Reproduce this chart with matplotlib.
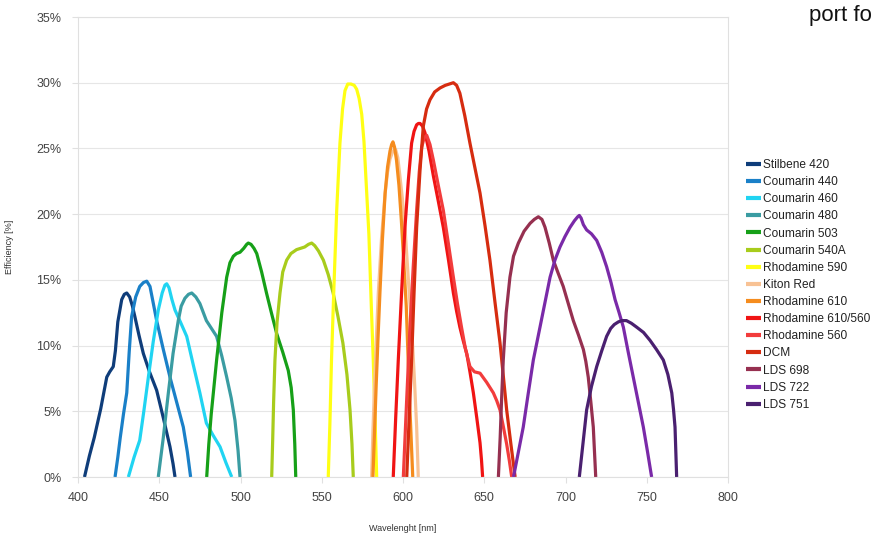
import matplotlib
matplotlib.use("Agg")
import matplotlib.pyplot as plt
from matplotlib.ticker import FuncFormatter, MultipleLocator

plt.rcParams['font.family'] = ['Liberation Sans', 'DejaVu Sans']

# ---- data: (wavelength nm, efficiency %) ----
stilbene420_x = [404, 407, 410, 414, 417.7, 419.5, 421.7, 423, 424.5, 426.9, 428.5, 430, 431.8, 433.5, 435, 437.5, 440.2, 444, 448.4, 452.5, 456.6, 458.5, 459.7]
stilbene420_y = [0, 1.6, 3.0, 5.2, 7.6, 8.0, 8.4, 9.6, 11.8, 13.5, 13.9, 14.0, 13.7, 13.0, 12.2, 10.8, 9.4, 8.0, 6.6, 4.5, 2.3, 1.0, 0]

coumarin440_x = [422.8, 424.5, 426, 428, 430, 431.5, 433, 435.5, 438, 440.3, 442.3, 444.3, 446.2, 448.4, 452.5, 456.6, 460.7, 464.8, 467.3, 469.3]
coumarin440_y = [0, 1.5, 3.0, 4.8, 6.4, 9.5, 12.2, 13.7, 14.5, 14.8, 14.9, 14.5, 13.3, 11.9, 9.7, 7.6, 5.7, 3.8, 1.9, 0]

coumarin460_x = [431, 434.5, 438, 440.5, 443.3, 446.3, 449.4, 451.8, 453.5, 454.6, 456, 457.8, 459.7, 463, 466.9, 471, 475, 479, 483, 487.4, 491, 494.6]
coumarin460_y = [0, 1.5, 2.8, 5.0, 7.6, 10.3, 12.7, 14.0, 14.6, 14.7, 14.4, 13.5, 12.7, 11.8, 10.7, 8.5, 6.4, 4.1, 3.2, 2.3, 1.1, 0]

coumarin480_x = [449.4, 452.5, 455.6, 458.5, 461.7, 463.5, 465.8, 468, 470, 472.5, 475, 479, 485.3, 488.5, 491.5, 494.3, 496.6, 498.5, 499.7]
coumarin480_y = [0, 3.0, 6.4, 9.4, 11.9, 13.0, 13.6, 13.9, 14.0, 13.7, 13.2, 11.9, 10.7, 9.2, 7.6, 6.0, 4.3, 2.0, 0]

coumarin503_x = [479.2, 480.5, 482, 485.3, 488.5, 491.5, 493.5, 495.6, 497.5, 499.7, 502, 503.8, 504.8, 506.5, 508.3, 510, 513, 516, 519, 522.3, 526, 529.4, 531.2, 532.5, 533.4, 534]
coumarin503_y = [0, 2.5, 4.8, 8.9, 12.5, 15.2, 16.3, 16.8, 17.0, 17.1, 17.4, 17.7, 17.8, 17.7, 17.4, 17.0, 15.6, 14.0, 12.5, 10.9, 9.5, 8.1, 6.8, 5.1, 2.5, 0]

coumarin540a_x = [519.2, 519.8, 520.4, 521.2, 522.5, 524.3, 526, 528.4, 531, 534.5, 537, 539.5, 541.8, 543.8, 545.7, 548, 551, 554, 557, 560, 563, 565.5, 567.4, 568.6, 569.4]
coumarin540a_y = [0, 2.8, 5.8, 8.9, 11.8, 14.0, 15.6, 16.5, 17.0, 17.3, 17.4, 17.5, 17.7, 17.8, 17.6, 17.2, 16.5, 15.4, 14.0, 12.2, 10.2, 7.8, 5.1, 2.5, 0]

rhodamine590_x = [554, 555, 556, 557.5, 559.2, 561.2, 562.8, 564.3, 566, 568, 570, 571.5, 573, 574.6, 576, 577.5, 579, 580.5, 581.7, 582.8, 583.8]
rhodamine590_y = [0, 4.0, 8.9, 14.5, 20.3, 25.4, 28.0, 29.4, 29.9, 29.9, 29.8, 29.5, 28.8, 27.6, 25.5, 22.0, 18.5, 13.0, 8.9, 4.5, 0]

kitonred_x = [580.7, 581.5, 582.5, 583.6, 584.8, 586.8, 589, 590.5, 592, 593.8, 595.5, 596.8, 598, 599.6, 601.2, 603.2, 605.3, 607, 608.4, 609.4]
kitonred_y = [0, 3.5, 7.0, 10.5, 14.0, 18.2, 21.6, 23.2, 24.2, 24.8, 24.9, 24.3, 23.0, 21.2, 19.0, 15.2, 11.4, 7.5, 3.8, 0]

rhodamine610_x = [581.5, 582.5, 583.5, 584.6, 585.8, 587.3, 589, 590.5, 592, 593, 593.8, 594.8, 596, 597.5, 599, 600.5, 602, 603, 604, 605, 606]
rhodamine610_y = [0, 3.5, 7.0, 10.5, 14.0, 18.0, 21.6, 23.6, 24.8, 25.3, 25.5, 25.1, 24.1, 22.2, 19.5, 16.3, 13.0, 9.5, 6.0, 3.0, 0]

rhodamine610_560_x = [594, 595.5, 597.1, 599.2, 601.2, 603.3, 605.3, 606.8, 608.4, 609.5, 610.5, 612, 613.5, 616, 618.7, 621.7, 624.8, 628, 631, 633, 635, 637, 639.2, 641.2, 643.3, 645.4, 647.4, 648.3, 649]
rhodamine610_560_y = [0, 4.5, 8.9, 14.2, 19.0, 22.6, 25.4, 26.3, 26.8, 26.9, 26.9, 26.7, 26.2, 24.8, 22.9, 21.0, 19.0, 16.5, 14.0, 12.6, 11.4, 10.4, 9.4, 8.0, 6.4, 4.5, 2.6, 1.3, 0]

rhodamine560_x = [600.2, 602.2, 604.3, 606.3, 608.4, 610, 611.5, 613, 614.6, 616.6, 618.7, 621.7, 624.8, 628, 631, 633.5, 636, 638.5, 641.2, 644, 647.4, 651.5, 655.6, 657.7, 659.7, 661.8, 663.8, 665.5, 666.9]
rhodamine560_y = [0, 5.7, 11.4, 16.0, 20.3, 23.2, 25.1, 25.8, 26.0, 25.3, 24.1, 22.2, 20.3, 17.7, 15.2, 13.2, 11.4, 9.7, 8.4, 8.0, 7.9, 7.2, 6.4, 5.8, 5.1, 3.8, 2.5, 1.2, 0]

dcm_x = [602.3, 603.8, 605.3, 606.8, 608.4, 610.5, 612.5, 614.5, 616.6, 619.5, 622.8, 626, 628.5, 631, 633, 635, 638, 641.2, 644.3, 647.4, 650.5, 653.5, 656.6, 659.7, 661.8, 663.8, 666.4, 669]
dcm_y = [0, 4.5, 8.9, 14.0, 19.0, 23.4, 26.7, 28.0, 28.7, 29.3, 29.6, 29.8, 29.9, 30.0, 29.8, 29.2, 27.5, 25.4, 23.5, 21.6, 19.1, 16.5, 13.3, 10.2, 7.6, 5.1, 2.5, 0]

lds698_x = [658.7, 659.8, 660.7, 661.7, 663.5, 665.8, 668, 671, 674.5, 678.2, 680.8, 683.3, 685.5, 687.4, 690, 692.5, 695.5, 698.6, 701.7, 704.8, 708, 711, 712.5, 714, 715.6, 717.1, 718.6]
lds698_y = [0, 3.0, 6.0, 8.9, 12.5, 15.2, 16.8, 17.8, 18.7, 19.3, 19.6, 19.8, 19.6, 19.0, 17.8, 16.5, 15.5, 14.5, 13.2, 11.9, 10.8, 9.7, 8.8, 7.6, 5.7, 3.8, 0]

lds722_x = [668, 671, 674, 677, 680.2, 684.3, 687.4, 690.5, 693.5, 696.6, 699.7, 702.8, 705.5, 707.5, 708.5, 709.6, 711, 713, 716, 719.2, 722.3, 725.3, 728, 730.5, 733, 735.6, 738.6, 741.7, 744.8, 747.9, 750.5, 753]
lds722_y = [0, 1.9, 3.8, 6.3, 8.9, 11.4, 13.3, 15.2, 16.5, 17.5, 18.3, 19.0, 19.5, 19.8, 19.9, 19.7, 19.2, 18.8, 18.5, 18.0, 17.1, 16.0, 14.8, 13.5, 12.5, 11.4, 9.5, 7.6, 5.7, 3.8, 1.9, 0]

lds751_x = [708.5, 710.8, 713, 716, 719.2, 722.3, 725.3, 727.8, 730, 732.5, 734.6, 737.5, 740.5, 743.8, 748, 752, 756, 760.2, 763, 765.4, 766.5, 767.4, 768.4]
lds751_y = [0, 2.6, 5.1, 6.9, 8.4, 9.6, 10.7, 11.3, 11.6, 11.8, 11.9, 11.9, 11.7, 11.4, 11.0, 10.4, 9.7, 8.9, 7.8, 6.4, 5.1, 3.8, 0]

labels = ["Stilbene 420", "Coumarin 440", "Coumarin 460", "Coumarin 480",
          "Coumarin 503", "Coumarin 540A", "Rhodamine 590", "Kiton Red",
          "Rhodamine 610", "Rhodamine 610/560", "Rhodamine 560", "DCM",
          "LDS 698", "LDS 722", "LDS 751"]
colors = ["#0f3d7a", "#1a80c8", "#20d4f2", "#3a9ca2", "#16a018", "#a8cc1c",
          "#ffff14", "#f8c294", "#f58c1e", "#f01414", "#f23c3c", "#d62c10",
          "#963050", "#7a2aa8", "#4a2070"]
series = [
    (stilbene420_x, stilbene420_y), (coumarin440_x, coumarin440_y),
    (coumarin460_x, coumarin460_y), (coumarin480_x, coumarin480_y),
    (coumarin503_x, coumarin503_y), (coumarin540a_x, coumarin540a_y),
    (rhodamine590_x, rhodamine590_y), (kitonred_x, kitonred_y),
    (rhodamine610_x, rhodamine610_y), (rhodamine610_560_x, rhodamine610_560_y),
    (rhodamine560_x, rhodamine560_y), (dcm_x, dcm_y),
    (lds698_x, lds698_y), (lds722_x, lds722_y), (lds751_x, lds751_y),
]

fig = plt.figure(figsize=(8.74, 5.35), dpi=100)
ax = fig.add_axes([78/874, 58/535, 650/874, 460/535])

handles = []
for (x, y), lab, c in zip(series, labels, colors):
    h, = ax.plot(x, y, color=c, lw=2.3, label=lab, solid_joinstyle='round',
                 solid_capstyle='butt')
    handles.append(h)

ax.set_xlim(400, 800)
ax.set_ylim(0, 35)
ax.xaxis.set_major_locator(MultipleLocator(50))
ax.yaxis.set_major_locator(MultipleLocator(5))
ax.yaxis.set_major_formatter(FuncFormatter(lambda v, p: f"{int(round(v))}%"))
ax.grid(axis='y', color='#e6e6e6', lw=0.8)
ax.set_axisbelow(True)
for s in ax.spines.values():
    s.set_color('#e0e0e0')
    s.set_linewidth(0.8)
ax.tick_params(axis='both', colors='#e0e0e0', labelcolor='#444444',
               labelsize=9, length=4, width=0.8)
ax.tick_params(axis='x', pad=7)
ax.tick_params(axis='y', pad=8)

ax.set_xlabel("Wavelenght [nm]", fontsize=6.5, color='#333333', labelpad=14)
ax.set_ylabel("Efficiency [%]", fontsize=6.5, color='#333333', labelpad=16)

leg = fig.legend(handles=handles, loc='upper left',
                 bbox_to_anchor=(746/874, 1 - 159/535), frameon=False,
                 fontsize=8.6, labelspacing=0.43, handlelength=1.25,
                 handletextpad=0.2, borderaxespad=0, borderpad=0)
for t in leg.get_texts():
    t.set_color('#222222')
for l in leg.get_lines():
    l.set_linewidth(3)

fig.text(0.998, 1 - 21/535, "port fo", fontsize=16, ha='right', va='baseline',
         color='#111111')

fig.savefig("out.png", dpi=100)
